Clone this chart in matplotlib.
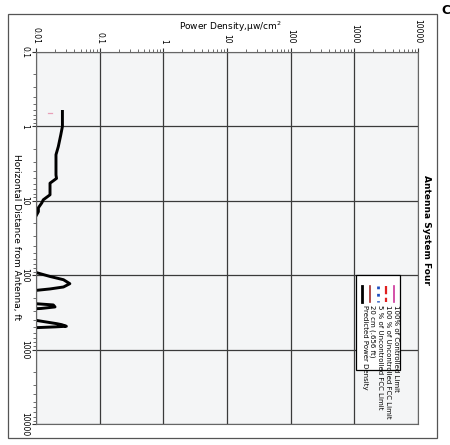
import matplotlib
matplotlib.use("Agg")
import matplotlib.pyplot as plt
from matplotlib.patches import Rectangle
from matplotlib.lines import Line2D

# ---- data (distance in ft, power density in uW/cm^2) ----
distance_ft = [0.63, 1.0, 1.3, 1.87, 2.4, 4.5, 5.0, 5.8, 8.3, 9.7, 10.7, 12.4, 14.0, 16.5, 17.5,
               88, 92, 104, 115, 130, 144, 153, 160, 165,
               235, 242, 251, 267, 280, 290,
               395, 405, 448, 462, 486, 495, 507, 520, 10000]
power_density = [0.026, 0.026, 0.0245, 0.0224, 0.0206, 0.0206, 0.021, 0.0166, 0.0166, 0.013, 0.0123, 0.0109, 0.0109, 0.0098, 0.005,
                 0.005, 0.01, 0.0166, 0.027, 0.034, 0.027, 0.0166, 0.01, 0.005,
                 0.005, 0.0102, 0.0187, 0.0199, 0.012, 0.005,
                 0.005, 0.0101, 0.0211, 0.0253, 0.030, 0.02, 0.0101, 0.005, 0.005]
marker_20cm_ft = [0.656, 0.656]
marker_20cm_pd = [0.0155, 0.018]

pd_ticks = [0.01, 0.1, 1, 10, 100, 1000, 10000]
pd_ticklabels = ["0.01", "0.1", "1", "10", "100", "1000", "10000"]
dist_ticks = [0.1, 1, 10, 100, 1000, 10000]
dist_ticklabels = ["0.1", "1", "10", "100", "1000", "10000"]

legend_labels = ["Predicted Power Density", "20 cm (.656 ft)", "5 % of Uncontrolled FCC Limit",
                 "100 % of Uncontrolled FCC Limit", "100% of Controlled Limit"]
legend_colors = ["black", "#a52a2a", "#1f4fbf", "#e02020", "#cc3399"]
legend_styles = ["-", "-", ":", "--", "-"]
legend_widths = [2.0, 1.2, 2.0, 1.6, 1.2]

W, H = 450, 445
fig = plt.figure(figsize=(4.5, 4.45), dpi=100)
fig.patch.set_facecolor("white")

def fx(px):
    return px / W

def fy(py):
    return 1 - py / H

ax = fig.add_axes([fx(36), fy(424), fx(418) - fx(36), fy(52) - fy(424)])
ax.set_facecolor("#f4f5f6")
ax.set_xscale("log")
ax.set_yscale("log")
ax.set_xlim(0.01, 10000)
ax.set_ylim(10000, 0.1)

ax.plot(power_density, distance_ft, color="black", lw=2.1, solid_joinstyle="round")
ax.plot(marker_20cm_pd, marker_20cm_ft, color="#e8a0b8", lw=0.9)

ax.xaxis.set_ticks_position("top")
ax.xaxis.set_label_position("top")
ax.set_xticks(pd_ticks)
ax.set_xticklabels(pd_ticklabels, rotation=-90, fontsize=5.5)
ax.set_yticks(dist_ticks)
ax.set_yticklabels(dist_ticklabels, rotation=-90, fontsize=5.5, va="center")
ax.tick_params(axis="x", which="major", length=3, pad=3, color="#333333")
ax.tick_params(axis="y", which="major", length=3, pad=2, color="#333333")
ax.tick_params(which="minor", length=2, color="#555555")
ax.grid(True, which="major", color="#3a3a3a", lw=0.9)
for s in ax.spines.values():
    s.set_color("#666666")
    s.set_linewidth(0.8)

# axis titles / title
fig.text(fx(230), fy(27), "Power Density,\u00b5w/cm$^2$", ha="center", va="center", fontsize=6.5)
fig.text(fx(16), fy(237), "Horizontal Distance from Antenna, ft", ha="center", va="center",
         rotation=-90, fontsize=6.5)
fig.text(fx(427), fy(230), "Antenna System Four", ha="center", va="center",
         rotation=-90, fontsize=6.5, fontweight="bold")
fig.text(fx(446), fy(10), "C", ha="center", va="center", fontsize=9, fontweight="bold")

# outer frame
fig.add_artist(Rectangle((fx(8), fy(438)), fx(437) - fx(8), fy(14) - fy(438),
                         transform=fig.transFigure, fill=False, edgecolor="#555555", lw=0.9))

# rotated legend
fig.add_artist(Rectangle((fx(356), fy(370)), fx(400) - fx(356), fy(275) - fy(370),
                         transform=fig.transFigure, facecolor="white", edgecolor="black", lw=0.9, zorder=5))
col_x = [362, 370, 378, 386, 394]
for x, lab, c, ls, lw in zip(col_x, legend_labels, legend_colors, legend_styles, legend_widths):
    fig.add_artist(Line2D([fx(x), fx(x)], [fy(286), fy(302)], transform=fig.transFigure,
                          color=c, ls=ls, lw=lw, zorder=6))
    fig.text(fx(x + 2.5), fy(305), lab, ha="center", va="top", rotation=-90, fontsize=5, zorder=6)

fig.savefig("out.png", dpi=100)
